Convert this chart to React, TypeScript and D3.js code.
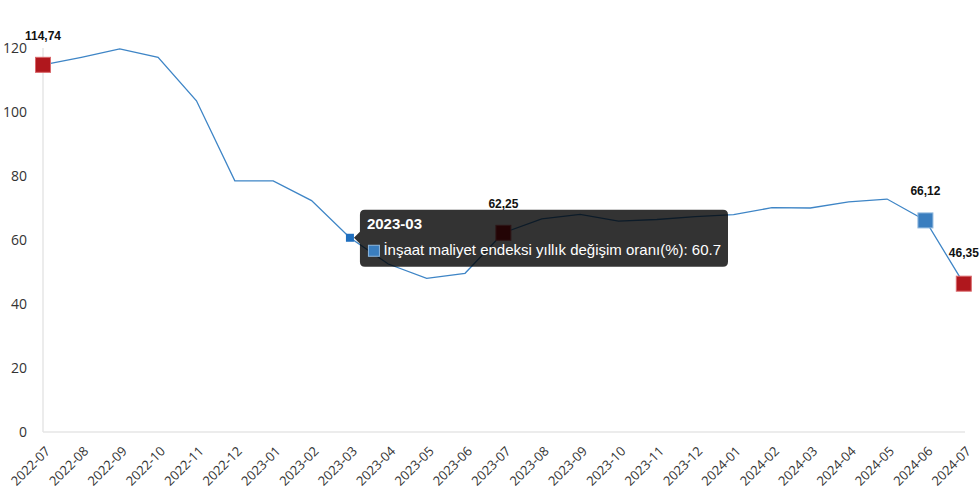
import React from "react";
import * as d3 from "d3";

const months = [
  "2022-07","2022-08","2022-09","2022-10","2022-11","2022-12",
  "2023-01","2023-02","2023-03","2023-04","2023-05","2023-06",
  "2023-07","2023-08","2023-09","2023-10","2023-11","2023-12",
  "2024-01","2024-02","2024-03","2024-04","2024-05","2024-06","2024-07",
];
const values = [
  114.74, 117.1, 119.7, 117.1, 103.5, 78.5,
  78.5, 72.3, 60.7, 52.5, 48.0, 49.6,
  62.25, 66.6, 68.0, 65.9, 66.4, 67.3,
  67.9, 70.1, 70.0, 71.9, 72.8, 66.12, 46.35,
];
const yTicks = [0, 20, 40, 60, 80, 100, 120];
const redMarks = ["2022-07", "2023-07", "2024-07"];
const blueMarks = ["2024-06"];
const labelled = ["2022-07", "2023-07", "2024-06", "2024-07"];
const hovered = "2023-03";
const seriesName = "İnşaat maliyet endeksi yıllık değişim oranı(%)";

const W = 980, H = 497;

export default function App() {
  const x = d3.scalePoint<string>().domain(months).range([43, 963.8]);
  const y = d3.scaleLinear().domain([0, 120]).range([432, 48]);
  const line = d3.line<number>().x((_, i) => x(months[i])!).y((d) => y(d));
  const fmt = (v: number) => v.toFixed(2).replace(".", ",");
  const hi = months.indexOf(hovered);
  const hx = x(hovered)!, hy = y(values[hi]);
  const tx = hx + 10, ty = hy - 28;

  return (
    <svg width={W} height={H} style={{ position: "absolute", left: 0, top: 0 }}>
      <rect width={W} height={H} fill="#fff" />
      <line x1={43} x2={43} y1={48} y2={432} stroke="#e6e6e6" strokeWidth={1.5} />
      <line x1={43} x2={965} y1={432} y2={432} stroke="#e6e6e6" strokeWidth={1.5} />
      {yTicks.map((t) => (
        <text key={t} x={27} y={y(t)} dy="0.35em" textAnchor="end" fontFamily="Open Sans" fontSize={14} fill="#333">
          {t}
        </text>
      ))}
      {months.map((m) => (
        <text key={m} transform={`translate(${x(m)! + 8},${452}) rotate(-45)`} textAnchor="end" fontFamily="Open Sans" fontSize={13} fill="#333">
          {m}
        </text>
      ))}
      <path d={line(values)!} fill="none" stroke="#3e85c6" strokeWidth={1.3} />
      {months.map((m, i) =>
        redMarks.includes(m) ? (
          <rect key={m} x={x(m)! - 7.5} y={y(values[i]) - 7.5} width={15} height={15} fill="#b0171d" stroke="#d9686c" strokeWidth={1} />
        ) : blueMarks.includes(m) ? (
          <rect key={m} x={x(m)! - 7.5} y={y(values[i]) - 7.5} width={15} height={15} fill="#3a7ebf" stroke="#8fb8de" strokeWidth={1} />
        ) : null
      )}
      <rect x={hx - 4} y={hy - 4} width={8} height={8} fill="#1f6fbf" />
      {months.map((m, i) =>
        labelled.includes(m) ? (
          <text key={m} x={x(m)!} y={y(values[i]) - (m === "2024-07" ? 26.5 : 25)} textAnchor="middle" fontFamily="Liberation Sans, Arial" fontWeight="bold" fontSize={12} fill="#111">
            {fmt(values[i])}
          </text>
        ) : null
      )}
      <g>
        <path
          d={`M${tx + 5},${ty} H${728 - 5} Q728,${ty} 728,${ty + 5} V${ty + 52} Q728,${ty + 57} ${728 - 5},${ty + 57} H${tx + 5} Q${tx},${ty + 57} ${tx},${ty + 52} V${hy + 6} L${hx + 4},${hy} L${tx},${hy - 6} V${ty + 5} Q${tx},${ty} ${tx + 5},${ty} Z`}
          fill="rgba(0,0,0,0.8)"
        />
        <text x={tx + 7} y={ty + 19} fontFamily="Liberation Sans, Arial" fontWeight="bold" fontSize={15} fill="#fff">
          {hovered}
        </text>
        <rect x={tx + 8.5} y={ty + 35.5} width={11} height={11} fill="#3a7ebf" stroke="#8fb8de" strokeWidth={1} />
        <text x={tx + 23.5} y={ty + 45.5} fontFamily="Liberation Sans, Arial" fontSize={15} fill="#fff">
          {`${seriesName}: ${values[hi]}`}
        </text>
      </g>
    </svg>
  );
}
